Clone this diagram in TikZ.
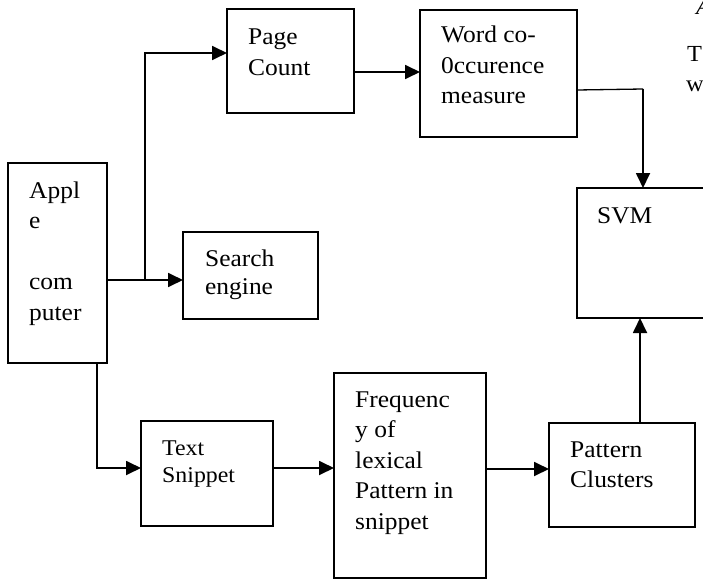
\documentclass[tikz,border=0pt]{standalone}
\usepackage{fontspec}
\setmainfont{Liberation Serif}[FakeStretch=1.06]
\usetikzlibrary{arrows.meta}
\tikzset{
  box/.style={draw, line width=1.3pt, anchor=north west, inner sep=0pt, outer sep=0pt},
  lbl/.style={anchor=base west, inner sep=0pt, font=\fontsize{24}{30.5}\selectfont},
  arr/.style={line width=1.8pt, -{Triangle[length=15pt,width=14pt]}},
  wire/.style={line width=1.3pt},
  margintext/.style={anchor=base west, inner sep=0pt, font=\fontsize{23}{30}\selectfont}
}
\newcommand{\linesof}[1]{\begin{tabular}[t]{@{}l@{}}#1\end{tabular}}
\begin{document}
\begin{tikzpicture}[x=1pt, y=-1pt]
  \useasboundingbox (0,0) rectangle (703,580);
  \clip (0,0) rectangle (703,580);

  % boxes
  \node[box, minimum width=99pt,  minimum height=200pt] (apple)  at (8,163)   {};
  \node[box, minimum width=127pt, minimum height=104pt] (page)   at (227,9)   {};
  \node[box, minimum width=157pt, minimum height=127pt] (word)   at (420,10)  {};
  \node[box, minimum width=140pt, minimum height=130pt] (svm)    at (577,188) {};
  \node[box, minimum width=135pt, minimum height=87pt]  (search) at (183,232) {};
  \node[box, minimum width=132pt, minimum height=105pt] (snip)   at (141,421) {};
  \node[box, minimum width=152pt, minimum height=205pt] (freq)   at (334,373) {};
  \node[box, minimum width=146pt, minimum height=104pt] (pat)    at (549,423) {};

  % box texts
  \node[lbl] (tapple)  at (29,198)  {\linesof{Appl\\ e\\ \\ com\\ puter}};
  \node[lbl] (tpage)   at (248,45)  {\linesof{Page\\ Count}};
  \node[lbl] (tword)   at (441,43)  {\linesof{Word co-\\ 0ccurence\\ measure}};
  \node[lbl] (tsvm)    at (597,223) {SVM};
  \node[lbl, font=\fontsize{24}{28}\selectfont] (tsearch) at (205,266) {\linesof{Search\\ engine}};
  \node[lbl, font=\fontsize{22.5}{27}\selectfont] (tsnip) at (162,455) {\linesof{Text\\ Snippet}};
  \node[lbl] (tfreq)   at (355,407) {\linesof{Frequenc\\ y of\\ lexical\\ Pattern in\\ snippet}};
  \node[lbl] (tpat)    at (570,457) {\linesof{Pattern\\ Clusters}};

  % running text at the right margin
  \node[margintext, font=\fontsize{23}{30}\selectfont\itshape] (ta) at (696,15) {A};
  \node[margintext] (tt) at (687,62) {T};
  \node[margintext] (tw) at (686,92) {w};

  % junctions
  \coordinate (j1) at (145,280);
  \coordinate (j2) at (97,468);
  \coordinate (bend) at (643,89);
  \coordinate (wout) at (577,90);
  \coordinate (up) at (640,400);

  % connectors
  \draw[arr] (apple.east |- j1) -- (search.west |- j1);
  \draw[arr] (j1) |- ([yshift=8pt]page.west);
  \coordinate (pc) at ([yshift=-11pt]page.east);
  \draw[arr] (pc) -- (pc -| word.west);
  \draw[wire] (wout) -- (bend);
  \draw[arr] (bend) -- (bend |- svm.north);
  \draw[arr] (j2 |- apple.south) -- (j2) -- (j2 -| snip.west);
  \draw[arr] (snip.east |- j2) -- (freq.west |- j2);
  \draw[arr] ([yshift=-1pt]freq.east |- j2) -- ([yshift=-1pt]pat.west |- j2);
  \draw[arr] (up |- pat.north) -- (up |- svm.south);
\end{tikzpicture}
\end{document}
